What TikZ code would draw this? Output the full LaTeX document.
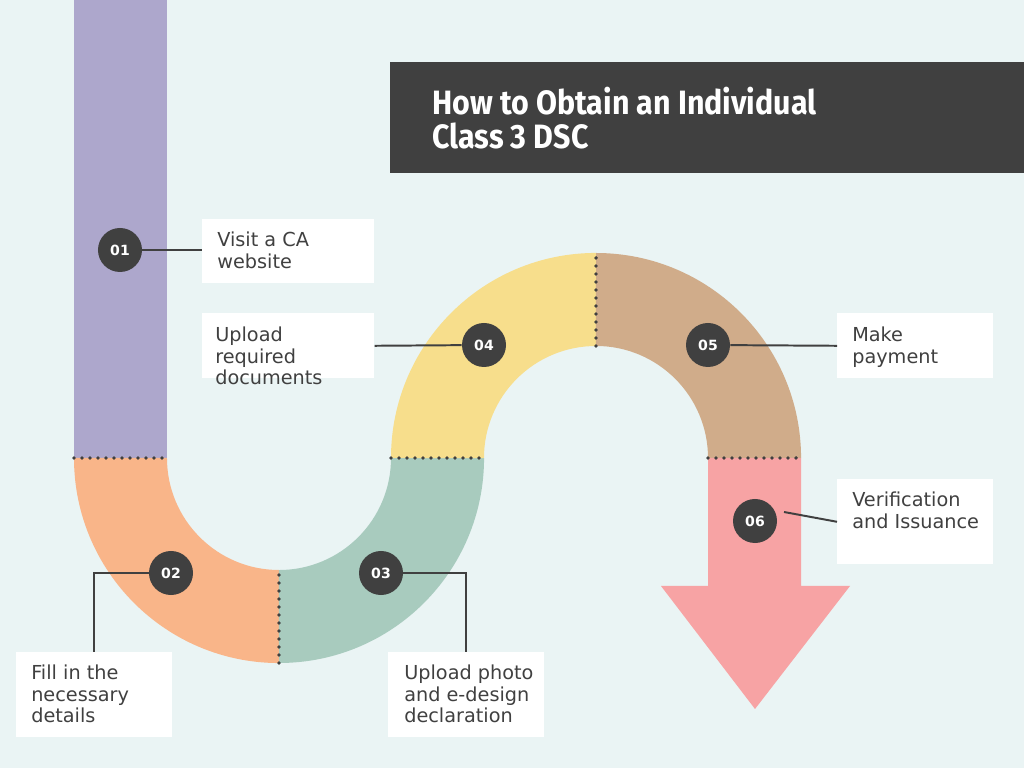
\documentclass[tikz,border=0pt]{standalone}
\usepackage{fontspec}
\setmainfont{DejaVu Sans}
\newfontfamily\titlefont[FakeStretch=0.9]{Fira Sans}
\usetikzlibrary{positioning,calc}
\definecolor{bgc}{HTML}{EAF4F4}
\definecolor{darkc}{HTML}{404040}
\definecolor{purplec}{HTML}{ADA7CC}
\definecolor{orangec}{HTML}{F9B589}
\definecolor{greenc}{HTML}{A8CBBE}
\definecolor{yellowc}{HTML}{F7DE8C}
\definecolor{tanc}{HTML}{D0AC8A}
\definecolor{pinkc}{HTML}{F7A3A4}
\tikzset{
  seam/.style={draw=darkc,line width=2.8pt,line cap=round,dash pattern=on 0pt off 5.69pt},
  numdot/.style={circle,fill=darkc,text=white,minimum size=1.1cm,inner sep=0pt,
    font=\fontsize{10}{12}\selectfont\bfseries},
  lbox/.style={rectangle,fill=white,inner sep=0pt,anchor=north west},
  ltext/.style={anchor=north west,inner sep=0pt,align=left,text=darkc,
    font=\fontsize{13.7}{15.3}\selectfont},
  conn/.style={draw=darkc,line width=1.4pt},
}
\begin{document}
\begin{tikzpicture}[x=0.025cm,y=0.025cm]
  \fill[bgc] (0,0) rectangle (1024,768);
  \useasboundingbox (0,0) rectangle (1024,768);
  % bands
  \fill[purplec] (74,310) rectangle (167,768);
  \fill[orangec] (74,310) arc[start angle=180,end angle=270,radius=5.125cm] -- (279,198)
    arc[start angle=270,end angle=180,radius=2.8cm] -- cycle;
  \fill[greenc] (279,105) arc[start angle=270,end angle=360,radius=5.125cm] -- (391,310)
    arc[start angle=0,end angle=-90,radius=2.8cm] -- cycle;
  \fill[yellowc] (391,310) arc[start angle=180,end angle=90,radius=5.125cm] -- (596,422)
    arc[start angle=90,end angle=180,radius=2.8cm] -- cycle;
  \fill[tanc] (596,515) arc[start angle=90,end angle=0,radius=5.125cm] -- (708,310)
    arc[start angle=0,end angle=90,radius=2.8cm] -- cycle;
  \fill[pinkc] (708,310) -- (801,310) -- (801,182) -- (850,182) -- (755,59)
    -- (661,182) -- (708,182) -- cycle;
  \draw[seam] (74,310) -- (167,310);
  \draw[seam] (279,105) -- (279,198);
  \draw[seam] (391,310) -- (484,310);
  \draw[seam] (596,422) -- (596,515);
  \draw[seam] (708,310) -- (801,310);
  % title
  \fill[darkc] (390,706) rectangle (1024,595);
  \node[anchor=north west,inner sep=0pt,align=left,text=white,
    font=\titlefont\bfseries\fontsize{24}{24.2}\selectfont] (title) at (432,681)
    {How to Obtain an Individual\\Class 3 DSC};
  % label boxes
  \node[lbox,minimum width=4.3cm,minimum height=1.6cm] (b1) at (202,549) {};
  \node[lbox,minimum width=4.3cm,minimum height=1.625cm] (b4) at (202,455) {};
  \node[lbox,minimum width=3.9cm,minimum height=1.625cm] (b5) at (837,455) {};
  \node[lbox,minimum width=3.9cm,minimum height=2.125cm] (b6) at (837,289) {};
  \node[lbox,minimum width=3.9cm,minimum height=2.125cm] (b2) at (16,116) {};
  \node[lbox,minimum width=3.9cm,minimum height=2.125cm] (b3) at (388,116) {};
  \node[ltext] (t1) at ($(b1.north west)+(15,-13)$) {Visit a CA\\website};
  \node[ltext] (t4) at ($(b4.north west)+(13,-14)$) {Upload\\required\\documents};
  \node[ltext] (t5) at ($(b5.north west)+(15,-14)$) {Make\\payment};
  \node[ltext] (t6) at ($(b6.north west)+(15,-13)$) {Verification\\and Issuance};
  \node[ltext] (t2) at ($(b2.north west)+(15,-13)$) {Fill in the\\necessary\\details};
  \node[ltext] (t3) at ($(b3.north west)+(16,-13)$) {Upload photo\\and e-design\\declaration};
  % steps
  \node[numdot] (n1) at (120,518) {01};
  \node[numdot] (n2) at (171,195) {02};
  \node[numdot] (n3) at (381,195) {03};
  \node[numdot] (n4) at (484,423) {04};
  \node[numdot] (n5) at (708,423) {05};
  \node[numdot] (n6) at (755,247) {06};
  \draw[conn] (n1) -- (n1 -| b1.west);
  \draw[conn] (n2) -| (b2.north);
  \draw[conn] (n3) -| (b3.north);
  \draw[conn] (b4.east) -- (n4);
  \draw[conn] (n5) -- (b5.west);
  \draw[conn] ($(n6)+(29,9)$) -- (b6.west);
\end{tikzpicture}
\end{document}
